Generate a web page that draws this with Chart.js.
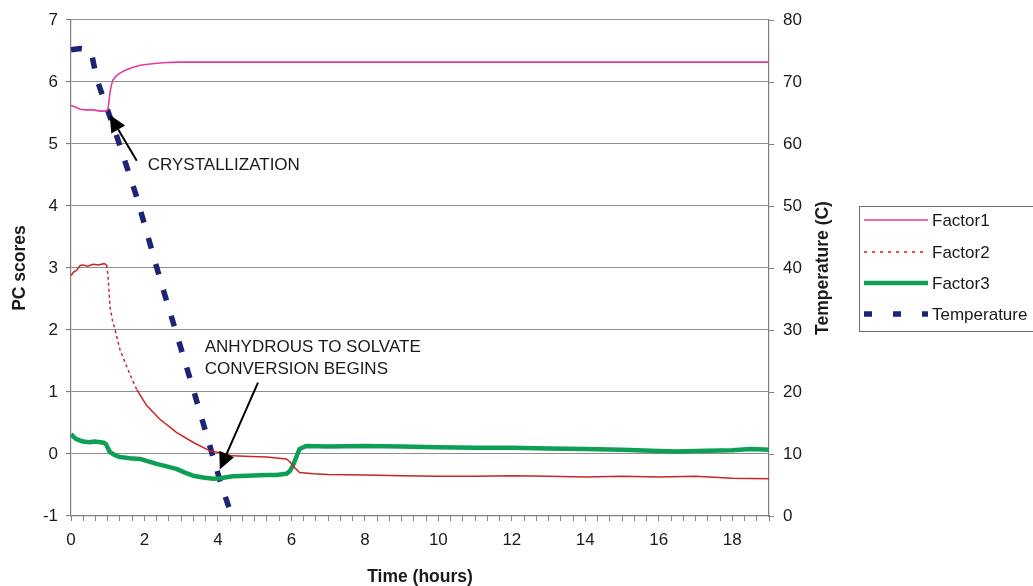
<!DOCTYPE html>
<html>
<head>
<meta charset="utf-8">
<script src="https://cdn.jsdelivr.net/npm/chart.js@4.4.1/dist/chart.umd.min.js"></script>
<style>
  html, body { margin: 0; padding: 0; background: #ffffff; }
  #wrap { width: 1033px; height: 586px; position: relative; }
</style>
</head>
<body>
<div id="wrap"><canvas id="c" width="1033" height="586"></canvas></div>
<script>
// ---------- DATA ----------
const f1Hours  = [0, 0.1, 0.25, 0.4, 0.6, 0.8, 0.95, 1.0, 1.03, 1.06, 1.1, 1.14, 1.22, 1.32, 1.45, 1.65, 1.88, 2.15, 2.5, 2.9, 4, 8, 12, 16, 19];
const f1Values = [5.62, 5.60, 5.56, 5.55, 5.55, 5.53, 5.53, 5.55, 5.66, 5.83, 5.95, 6.03, 6.09, 6.14, 6.18, 6.23, 6.27, 6.29, 6.31, 6.32, 6.32, 6.32, 6.32, 6.32, 6.32];

const f2Hours  = [0, 0.08, 0.15, 0.25, 0.33, 0.45, 0.6, 0.75, 0.9, 0.97, 1.01, 1.06, 1.13, 1.2, 1.33, 1.51, 1.65, 1.79, 2.06, 2.42, 2.87, 3.32, 3.78, 4.05, 4.41, 4.9, 5.32, 5.86, 5.95, 6.04, 6.22, 6.6, 7, 8, 9, 10, 11, 12, 13, 14, 15, 16, 17, 18, 19];
const f2Values = [2.88, 2.94, 2.96, 3.04, 3.05, 3.03, 3.06, 3.05, 3.07, 3.05, 2.86, 2.38, 2.15, 2.0, 1.69, 1.42, 1.22, 1.04, 0.78, 0.56, 0.35, 0.19, 0.05, 0.02, -0.03, -0.04, -0.05, -0.08, -0.12, -0.19, -0.3, -0.32, -0.33, -0.34, -0.35, -0.36, -0.36, -0.35, -0.36, -0.37, -0.36, -0.37, -0.36, -0.39, -0.4];

const f3Hours  = [0, 0.08, 0.15, 0.33, 0.5, 0.65, 0.79, 0.9, 0.95, 1.0, 1.06, 1.2, 1.33, 1.6, 1.88, 2.1, 2.33, 2.6, 2.87, 3.1, 3.32, 3.6, 3.87, 4.05, 4.41, 4.8, 5.32, 5.6, 5.86, 5.95, 6.04, 6.22, 6.4, 7, 8, 9, 10, 11, 12, 13, 14, 15, 16, 16.5, 17, 18, 18.5, 19];
const f3Values = [0.32, 0.27, 0.24, 0.2, 0.19, 0.2, 0.19, 0.18, 0.16, 0.1, 0.03, -0.02, -0.05, -0.07, -0.08, -0.12, -0.16, -0.2, -0.24, -0.3, -0.35, -0.38, -0.4, -0.39, -0.36, -0.35, -0.34, -0.34, -0.32, -0.28, -0.19, 0.08, 0.13, 0.12, 0.13, 0.12, 0.11, 0.1, 0.1, 0.09, 0.08, 0.07, 0.05, 0.04, 0.05, 0.06, 0.08, 0.07];

const tempHours  = [0, 0.25, 0.5, 0.58, 0.7, 1.26, 1.78, 2.42, 3.3, 4.05, 4.32];
const tempValues = [75.2, 75.4, 75.2, 74, 70.5, 61, 51.6, 38.3, 21, 5.8, 1.0];

const seriesNames = ['Factor1', 'Factor2', 'Factor3', 'Temperature'];

const xLabelHours = [0, 2, 4, 6, 8, 10, 12, 14, 16, 18];
const xTickLabels = ['0', '2', '4', '6', '8', '10', '12', '14', '16', '18'];
const xMinorStepsPerHour = 3;   // minor tick marks every 20 minutes
const xMax = 19;

const annotations = [
  { lines: ['CRYSTALLIZATION'], textX: 2.09, textY: 4.66, tailX: 1.79, tailY: 4.73, tipX: 1.05, tipY: 5.47 },
  { lines: ['ANHYDROUS TO SOLVATE', 'CONVERSION BEGINS'], textX: 3.64, textY: 1.72, tailX: 5.09, tailY: 1.15, tipX: 4.05, tipY: -0.25 }
];

// ---------- helpers ----------
const FONT = "'Liberation Sans', Arial, Helvetica, sans-serif";
Chart.defaults.font.family = FONT;
Chart.defaults.color = '#1a1a1a';

function pts(xs, ys) { return xs.map((x, i) => ({ x: x, y: ys[i] })); }

const xTickValues = [];
for (let k = 0; k <= xMax * xMinorStepsPerHour; k++) xTickValues.push(k / xMinorStepsPerHour);

const COLORS = { f1: '#e23d9d', f2: '#cc2424', f3: '#0d9f55', temp: '#1c2473' };
const AXIS = '#7f7f7f';
const GRID = '#8e8e8e';

const overlay = {
  id: 'overlay',
  afterDraw(chart) {
    const ctx = chart.ctx;
    const xs = chart.scales.x, ys = chart.scales.y, area = chart.chartArea;
    ctx.save();
    // right axis title (reads bottom to top)
    ctx.fillStyle = '#1a1a1a';
    ctx.font = 'bold 17.5px ' + FONT;
    ctx.textAlign = 'center';
    ctx.textBaseline = 'middle';
    ctx.translate(823, (area.top + area.bottom) / 2);
    ctx.rotate(-Math.PI / 2);
    ctx.fillText('Temperature (C)', 0, 0);
    ctx.restore();

    // annotations
    ctx.save();
    ctx.font = '17px ' + FONT;
    ctx.fillStyle = '#1a1a1a';
    ctx.textAlign = 'left';
    ctx.textBaseline = 'middle';
    annotations.forEach(a => {
      const tx = xs.getPixelForValue(a.textX), ty = ys.getPixelForValue(a.textY);
      a.lines.forEach((ln, i) => ctx.fillText(ln, tx, ty + i * 21.5));
      const x0 = xs.getPixelForValue(a.tailX), y0 = ys.getPixelForValue(a.tailY);
      const x1 = xs.getPixelForValue(a.tipX), y1 = ys.getPixelForValue(a.tipY);
      const ang = Math.atan2(y1 - y0, x1 - x0);
      const hl = 17, hw = 8;
      const bx = x1 - hl * Math.cos(ang), by = y1 - hl * Math.sin(ang);
      ctx.strokeStyle = '#000';
      ctx.lineWidth = 2;
      ctx.beginPath(); ctx.moveTo(x0, y0); ctx.lineTo(bx, by); ctx.stroke();
      ctx.fillStyle = '#000';
      ctx.beginPath();
      ctx.moveTo(x1, y1);
      ctx.lineTo(bx + hw * Math.sin(ang), by - hw * Math.cos(ang));
      ctx.lineTo(bx - hw * Math.sin(ang), by + hw * Math.cos(ang));
      ctx.closePath(); ctx.fill();
      ctx.fillStyle = '#1a1a1a';
    });
    ctx.restore();

    // legend box
    ctx.save();
    const lx = 859, ly = 206, lh = 125;
    ctx.strokeStyle = '#6e6e6e';
    ctx.lineWidth = 1;
    ctx.strokeRect(lx + 0.5, ly + 0.5, 200, lh);
    const rows = [220, 252, 283, 314];
    chart.data.datasets.forEach((ds, i) => {
      const y = rows[i];
      ctx.strokeStyle = ds.borderColor;
      ctx.lineWidth = ds.legendWidth;
      ctx.setLineDash(ds.legendDash);
      ctx.lineCap = 'butt';
      ctx.beginPath(); ctx.moveTo(864, y); ctx.lineTo(928, y); ctx.stroke();
      ctx.setLineDash([]);
      ctx.fillStyle = '#1a1a1a';
      ctx.font = '17px ' + FONT;
      ctx.textAlign = 'left';
      ctx.textBaseline = 'middle';
      ctx.fillText(ds.label, 932, y + 1);
    });
    ctx.restore();
  }
};

new Chart(document.getElementById('c'), {
  type: 'line',
  data: {
    datasets: [
      { label: seriesNames[0], data: pts(f1Hours, f1Values), borderColor: COLORS.f1, borderWidth: 1.6,
        pointRadius: 0, yAxisID: 'y', legendWidth: 1.6, legendDash: [] },
      { label: seriesNames[1], data: pts(f2Hours, f2Values), borderColor: COLORS.f2, borderWidth: 1.5,
        pointRadius: 0, yAxisID: 'y', legendWidth: 1.6, legendDash: [3, 5],
        segment: { borderDash: c => {
          const dx = Math.abs(c.p1.x - c.p0.x), dy = Math.abs(c.p1.y - c.p0.y);
          return dy > 2 * dx ? [3, 3] : undefined; } } },
      { label: seriesNames[2], data: pts(f3Hours, f3Values), borderColor: COLORS.f3, borderWidth: 4.5,
        pointRadius: 0, yAxisID: 'y', legendWidth: 4.5, legendDash: [], borderJoinStyle: 'round' },
      { label: seriesNames[3], data: pts(tempHours, tempValues), borderColor: COLORS.temp, borderWidth: 5.5,
        borderDash: [11, 16], pointRadius: 0, yAxisID: 'y2', legendWidth: 5.5, legendDash: [8, 21] }
    ]
  },
  options: {
    responsive: false,
    animation: false,
    events: [],
    layout: { padding: { top: 20, right: 194, left: 0, bottom: 0 } },
    plugins: { legend: { display: false }, tooltip: { enabled: false } },
    elements: { line: { tension: 0 } },
    scales: {
      x: {
        type: 'linear', min: 0, max: xMax,
        afterBuildTicks: s => { s.ticks = xTickValues.map(v => ({ value: v })); },
        afterFit: s => { s.height = 70; },
        ticks: {
          autoSkip: false, maxRotation: 0, padding: 9, color: '#1a1a1a',
          font: { size: 17 },
          callback: v => {
            const i = xLabelHours.findIndex(h => Math.abs(h - v) < 1e-6);
            return i >= 0 ? xTickLabels[i] : '';
          }
        },
        grid: { drawOnChartArea: false, drawTicks: true, tickLength: 5, tickColor: AXIS },
        border: { color: AXIS, width: 1.2 },
        title: { display: true, text: 'Time (hours)', color: '#1a1a1a',
                 font: { size: 17.5, weight: 'bold', lineHeight: 1.0 }, padding: { top: 0, bottom: 0 } }
      },
      y: {
        position: 'left', min: -1, max: 7,
        afterFit: s => { s.width = 71; },
        ticks: { stepSize: 1, padding: 8, color: '#1a1a1a', font: { size: 17 } },
        grid: { color: GRID, lineWidth: 1.1, tickLength: 5, tickColor: AXIS },
        border: { color: AXIS, width: 1.2 },
        title: { display: true, text: 'PC scores', color: '#1a1a1a',
                 font: { size: 17.5, weight: 'bold' }, padding: { top: 10, bottom: 0 } }
      },
      y2: {
        position: 'right', min: 0, max: 80,
        afterFit: s => { s.width = 70; },
        ticks: { stepSize: 10, padding: 9, color: '#1a1a1a', font: { size: 17 } },
        grid: { drawOnChartArea: false, tickLength: 5, tickColor: AXIS },
        border: { color: AXIS, width: 1.2 }
      }
    }
  },
  plugins: [overlay]
});
</script>
</body>
</html>
